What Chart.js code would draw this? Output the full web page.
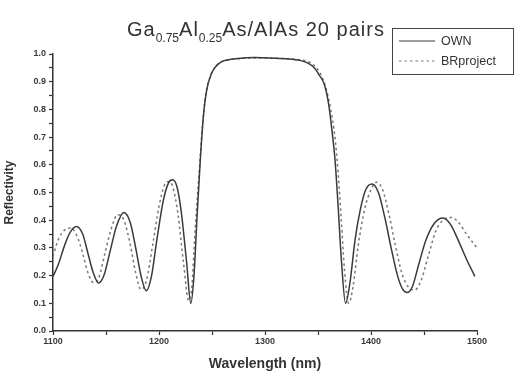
<!DOCTYPE html>
<html>
<head>
<meta charset="utf-8">
<script src="https://cdn.jsdelivr.net/npm/chart.js@4"></script>
<style>
  html, body { margin: 0; padding: 0; background: #fff; }
  #wrap { width: 515px; height: 375px; position: relative; }
</style>
</head>
<body>
<div id="wrap"><canvas id="reflChart"></canvas></div>
<script>
// ======= data =======
const ownWavelength = [1100, 1105, 1111, 1116, 1122, 1128, 1133, 1138, 1143, 1148, 1154, 1160, 1167, 1173, 1178, 1183, 1188, 1193, 1198, 1204, 1209, 1213, 1217, 1221, 1226, 1230, 1233, 1236, 1239, 1242, 1245, 1249, 1253, 1258, 1264, 1275, 1290, 1305, 1320, 1333, 1340, 1346, 1351, 1356, 1360, 1363, 1366, 1369, 1372, 1376, 1380, 1385, 1390, 1395, 1401, 1407, 1413, 1419, 1425, 1430, 1434, 1439, 1445, 1452, 1460, 1468, 1475, 1482, 1490, 1498];
const ownReflectivity = [0.197, 0.24, 0.31, 0.355, 0.377, 0.35, 0.28, 0.21, 0.173, 0.20, 0.29, 0.38, 0.428, 0.39, 0.30, 0.20, 0.145, 0.20, 0.33, 0.47, 0.535, 0.546, 0.52, 0.43, 0.25, 0.10, 0.20, 0.42, 0.62, 0.78, 0.87, 0.925, 0.952, 0.970, 0.978, 0.984, 0.987, 0.986, 0.983, 0.977, 0.968, 0.952, 0.925, 0.89, 0.82, 0.73, 0.62, 0.45, 0.26, 0.10, 0.17, 0.33, 0.44, 0.51, 0.531, 0.50, 0.41, 0.30, 0.20, 0.15, 0.139, 0.16, 0.24, 0.33, 0.39, 0.408, 0.385, 0.33, 0.26, 0.197];

const brWavelength = [1100, 1105, 1111, 1117, 1123, 1128, 1133, 1138, 1143, 1149, 1155, 1161, 1167, 1173, 1178, 1183, 1188, 1194, 1200, 1205, 1209, 1213, 1218, 1223, 1228, 1231, 1234, 1238, 1241, 1244, 1248, 1252, 1257, 1264, 1275, 1290, 1305, 1320, 1335, 1343, 1349, 1354, 1358, 1362, 1366, 1369, 1372, 1375, 1379, 1383, 1388, 1394, 1400, 1405, 1411, 1417, 1423, 1429, 1435, 1441, 1447, 1454, 1461, 1468, 1476, 1483, 1490, 1500];
const brReflectivity = [0.27, 0.33, 0.365, 0.372, 0.34, 0.28, 0.21, 0.175, 0.19, 0.28, 0.37, 0.42, 0.40, 0.31, 0.21, 0.15, 0.18, 0.31, 0.45, 0.525, 0.54, 0.52, 0.42, 0.25, 0.11, 0.16, 0.36, 0.58, 0.74, 0.85, 0.915, 0.948, 0.968, 0.978, 0.983, 0.986, 0.985, 0.983, 0.978, 0.968, 0.948, 0.915, 0.87, 0.80, 0.70, 0.57, 0.40, 0.22, 0.10, 0.16, 0.31, 0.44, 0.51, 0.537, 0.51, 0.42, 0.31, 0.21, 0.16, 0.148, 0.18, 0.27, 0.36, 0.40, 0.41, 0.39, 0.35, 0.30];

const seriesNames = ['OWN', 'BRproject'];
const xMin = 1100, xMax = 1500, xStep = 50;
const yMin = 0, yMax = 1, yStep = 0.05;

const toPoints = (xs, ys) => xs.map((x, i) => ({ x: x, y: ys[i] }));

// title with subscripts + boxed legend, drawn on the canvas
const decorPlugin = {
  id: 'decor',
  afterDraw(chart) {
    const ctx = chart.ctx;
    ctx.save();
    // title
    const parts = [
      ['Ga', false], ['0.75', true], ['Al', false], ['0.25', true], ['As/AlAs 20 pairs', false]
    ];
    let x = 127;
    const base = 36;
    ctx.fillStyle = '#333';
    ctx.textBaseline = 'alphabetic';
    ctx.textAlign = 'left';
    parts.forEach(([txt, sub]) => {
      ctx.font = sub ? '12px "Liberation Sans", Arial, sans-serif' : '20px "Liberation Sans", Arial, sans-serif';
      ctx.letterSpacing = sub ? '0px' : '1px';
      ctx.fillText(txt, x, sub ? base + 6 : base);
      x += ctx.measureText(txt).width;
    });
    ctx.letterSpacing = '0px';

    // legend box
    ctx.strokeStyle = '#444';
    ctx.lineWidth = 1;
    ctx.strokeRect(392.5, 28.5, 121, 46);
    const ds = chart.data.datasets;
    const rows = [41, 61];
    ds.forEach((d, i) => {
      ctx.beginPath();
      ctx.strokeStyle = d.borderColor;
      ctx.lineWidth = 1.2;
      ctx.setLineDash(d.borderDash || []);
      ctx.moveTo(399, rows[i]);
      ctx.lineTo(435, rows[i]);
      ctx.stroke();
      ctx.setLineDash([]);
      ctx.fillStyle = '#333';
      ctx.font = '12.5px "Liberation Sans", Arial, sans-serif';
      ctx.textBaseline = 'middle';
      ctx.fillText(d.label, 441, rows[i] + 1);
    });
    ctx.restore();
  }
};

const tickFont = { family: '"Liberation Sans", Arial, sans-serif', size: 9, weight: 'bold' };

new Chart(document.getElementById('reflChart').getContext('2d'), {
  type: 'line',
  data: {
    datasets: [
      {
        label: seriesNames[0],
        data: toPoints(ownWavelength, ownReflectivity),
        borderColor: '#3a3a3a',
        borderWidth: 1.5,
        pointRadius: 0,
        cubicInterpolationMode: 'monotone',
        fill: false
      },
      {
        label: seriesNames[1],
        data: toPoints(brWavelength, brReflectivity),
        borderColor: '#777',
        borderWidth: 1.5,
        borderDash: [2.5, 3],
        pointRadius: 0,
        cubicInterpolationMode: 'monotone',
        fill: false
      }
    ]
  },
  options: {
    responsive: true,
    maintainAspectRatio: false,
    animation: false,
    layout: { padding: { left: 0, right: 38, top: 54, bottom: 0 } },
    plugins: {
      legend: { display: false },
      title: { display: false },
      tooltip: { enabled: false }
    },
    scales: {
      x: {
        type: 'linear',
        min: xMin,
        max: xMax,
        afterFit: (s) => { s.height = 44; },
        ticks: {
          stepSize: xStep,
          autoSkip: false,
          maxRotation: 0,
          padding: 1,
          color: '#3a3a3a',
          font: tickFont,
          callback: (v) => (v % 100 === 0 ? String(v) : '')
        },
        grid: { drawOnChartArea: false, drawTicks: true, tickLength: 4, tickColor: '#333', tickWidth: 1.2 },
        border: { display: true, color: '#333', width: 1.5 },
        title: {
          display: true, text: 'Wavelength (nm)', color: '#333',
          font: { family: '"Liberation Sans", Arial, sans-serif', size: 14, weight: 'bold' },
          padding: { top: 4, bottom: 2 }
        }
      },
      y: {
        min: yMin,
        max: yMax,
        afterFit: (s) => { s.width = 53; },
        ticks: {
          stepSize: yStep,
          autoSkip: false,
          padding: 3,
          color: '#3a3a3a',
          font: tickFont,
          callback: (v) => {
            const r = Math.round(v * 100);
            return r % 10 === 0 ? (r / 100).toFixed(1) : '';
          }
        },
        grid: { drawOnChartArea: false, drawTicks: true, tickLength: 4, tickColor: '#333', tickWidth: 1.2 },
        border: { display: true, color: '#333', width: 1.5 },
        title: {
          display: true, text: 'Reflectivity', color: '#333',
          font: { family: '"Liberation Sans", Arial, sans-serif', size: 12, weight: 'bold' },
          padding: { top: 2, bottom: 0 }
        }
      }
    }
  },
  plugins: [decorPlugin]
});
</script>
</body>
</html>
